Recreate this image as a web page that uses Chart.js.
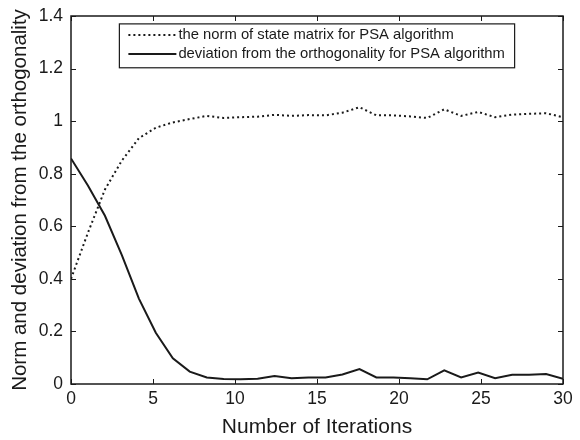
<!DOCTYPE html>
<html>
<head>
<meta charset="utf-8">
<script src="https://cdn.jsdelivr.net/npm/chart.js@4/dist/chart.umd.min.js"></script>
<style>
html,body{margin:0;padding:0;background:#fff;}
#wrap{width:580px;height:440px;position:relative;}
</style>
</head>
<body>
<div id="wrap"><canvas id="c" width="580" height="440"></canvas></div>
<script>
const iterations = [0,1.03,2.07,3.10,4.14,5.17,6.21,7.24,8.28,9.31,10.34,11.38,12.41,13.45,14.48,15.52,16.55,17.59,18.62,19.66,20.69,21.72,22.76,23.79,24.83,25.86,26.90,27.93,28.97,30];
const normValues = [0.40,0.575,0.74,0.85,0.935,0.975,0.995,1.008,1.02,1.012,1.015,1.017,1.024,1.02,1.023,1.022,1.032,1.053,1.022,1.022,1.018,1.012,1.045,1.02,1.035,1.015,1.025,1.028,1.03,1.015];
const deviationValues = [0.858,0.755,0.64,0.49,0.325,0.195,0.098,0.047,0.025,0.019,0.018,0.02,0.03,0.022,0.025,0.025,0.036,0.057,0.025,0.025,0.022,0.018,0.052,0.025,0.044,0.022,0.035,0.035,0.038,0.02];
const xTicks = [0,5,10,15,20,25,30];
const yTicks = [0,0.2,0.4,0.6,0.8,1,1.2,1.4];
const seriesLabels = ['the norm of state matrix for PSA algorithm','deviation from the orthogonality for PSA algorithm'];
const xTitle = 'Number of Iterations';
const yTitle = 'Norm and deviation from the orthogonality';

const pts = (ys) => iterations.map((x,i)=>({x:x,y:ys[i]}));
const ink = '#1a1a1a';
const FONT = 'Liberation Sans, Arial, sans-serif';

const boxTicks = {
  id:'boxTicks',
  afterDatasetsDraw(chart){
    const {ctx, chartArea:a, scales:{x,y}} = chart;
    ctx.save();
    ctx.strokeStyle = ink;
    ctx.lineWidth = 1;
    const L = 5;
    xTicks.forEach(v=>{
      const px = Math.round(x.getPixelForValue(v))+0.5;
      ctx.beginPath();
      ctx.moveTo(px,a.bottom); ctx.lineTo(px,a.bottom-L);
      ctx.moveTo(px,a.top); ctx.lineTo(px,a.top+L);
      ctx.stroke();
    });
    yTicks.forEach(v=>{
      const py = Math.round(y.getPixelForValue(v))+0.5;
      ctx.beginPath();
      ctx.moveTo(a.left,py); ctx.lineTo(a.left+L,py);
      ctx.moveTo(a.right,py); ctx.lineTo(a.right-L,py);
      ctx.stroke();
    });
    ctx.lineWidth = 1.5;
    ctx.strokeRect(a.left, a.top, a.right-a.left, a.bottom-a.top);
    // legend box
    const lx = x.getPixelForValue(2.95), rx = x.getPixelForValue(27.05);
    const ty = y.getPixelForValue(1.37), by = y.getPixelForValue(1.203);
    ctx.fillStyle = '#fff';
    ctx.fillRect(lx,ty,rx-lx,by-ty);
    ctx.lineWidth = 1.2;
    ctx.strokeRect(lx,ty,rx-lx,by-ty);
    ctx.font = '14.8px ' + FONT;
    ctx.fillStyle = ink;
    ctx.textBaseline = 'middle';
    chart.data.datasets.forEach((ds,i)=>{
      const rowY = ty + 11 + i*19;
      ctx.save();
      ctx.strokeStyle = ds.borderColor;
      ctx.lineWidth = ds.borderWidth;
      ctx.setLineDash(ds.borderDash || []);
      ctx.beginPath();
      ctx.moveTo(lx+9,rowY); ctx.lineTo(lx+57,rowY);
      ctx.stroke();
      ctx.restore();
      ctx.fillText(ds.label, lx+59, rowY);
    });
    ctx.restore();
  }
};

new Chart(document.getElementById('c'), {
  type:'line',
  data:{
    datasets:[
      {label:seriesLabels[0], data:pts(normValues), borderColor:ink, borderWidth:2, borderDash:[2,3], pointRadius:0, fill:false, tension:0},
      {label:seriesLabels[1], data:pts(deviationValues), borderColor:ink, borderWidth:2, pointRadius:0, fill:false, tension:0}
    ]
  },
  options:{
    responsive:false,
    animation:false,
    devicePixelRatio:1,
    layout:{padding:{left:0,top:16,right:17,bottom:0}},
    plugins:{legend:{display:false}, tooltip:{enabled:false}},
    scales:{
      x:{
        type:'linear', min:0, max:30,
        afterBuildTicks(s){ s.ticks = xTicks.map(v=>({value:v})); },
        afterFit(s){ s.height = 56; s.paddingLeft = 0; s.paddingRight = 0; },
        grid:{display:false, drawTicks:false},
        border:{display:false},
        ticks:{color:ink, font:{family:FONT,size:17.5}, padding:5, maxRotation:0, autoSkip:false},
        title:{display:true, text:xTitle, color:ink, font:{family:FONT,size:21}, padding:{top:0,bottom:0}}
      },
      y:{
        type:'linear', min:0, max:1.4,
        afterBuildTicks(s){ s.ticks = yTicks.map(v=>({value:v})); },
        afterFit(s){ s.width = 71; s.paddingTop = 0; s.paddingBottom = 0; },
        grid:{display:false, drawTicks:false},
        border:{display:false},
        ticks:{color:ink, font:{family:FONT,size:17.5}, padding:8, autoSkip:false, callback:(v)=>String(v)},
        title:{display:true, text:yTitle, color:ink, font:{family:FONT,size:20.5}, padding:{top:8,bottom:0}}
      }
    }
  },
  plugins:[boxTicks]
});
</script>
</body>
</html>
